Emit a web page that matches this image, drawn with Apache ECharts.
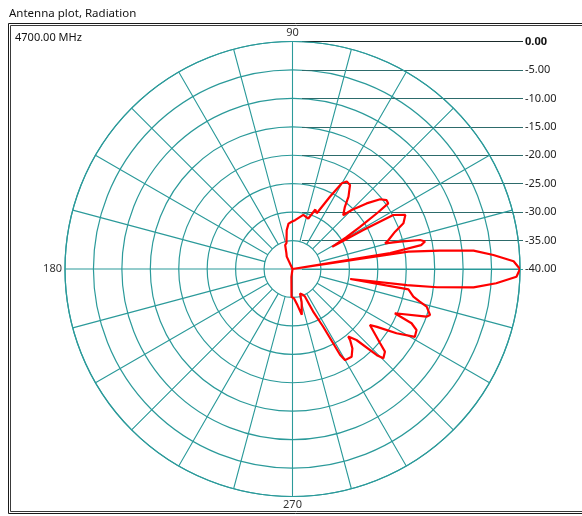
<!DOCTYPE html>
<html><head><meta charset="utf-8">
<script src="https://cdn.jsdelivr.net/npm/echarts/dist/echarts.min.js"></script>
<style>html,body{margin:0;padding:0;background:#fff}#c{width:582px;height:516px}</style>
</head><body><div id="c"></div>
<script>
// ---- data (angle in degrees, gain in dB) ----
const angles = [0, 2, 4, 5.8, 7.1, 8.5, 9, 9.3, 10.5, 11.7, 12.8, 14.3, 15.5, 16.5, 20, 22.4, 25.6, 28.2, 28.8, 29.2, 30.5, 32, 33.5, 34.4, 36.2, 38.5, 41.5, 44.9, 46.7, 49.9, 52.3, 55.6, 58.2, 60.1, 62.6, 66.5, 69, 72.6, 78.7, 87, 91, 95, 98.5, 103, 107, 111, 115, 120, 180, 255, 262, 268, 273, 278, 281.5, 283.7, 285.5, 287, 291, 294.3, 296, 298, 299, 300, 304, 307, 309, 309.5, 312, 314.4, 315.5, 318.2, 319.7, 324.1, 325.6, 328.3, 331, 333.8, 335.5, 336.6, 337.7, 340.4, 341.5, 344.3, 345.6, 347.1, 350, 350.2, 351.2, 352, 352.8, 354.2, 356, 358, 360];
const gains = [0, -1.1, -4.6, -8, -13.9, -19.4, -40, -22.6, -17, -16.2, -17, -20.5, -23.1, -22.5, -20.8, -18.9, -18, -19.9, -25.8, -32, -29, -26, -22, -19.6, -19.5, -20.3, -22.6, -25.3, -27, -25.7, -23.9, -22.1, -21.9, -22.6, -25.7, -29.3, -28.8, -30.7, -30.3, -31.4, -31.7, -32, -33.1, -35.3, -35.6, -37, -37.6, -40, -40, -40, -38.6, -35.1, -34.8, -33.5, -31.8, -32, -34, -35.5, -35.2, -34.7, -31.5, -28.5, -22.7, -21.5, -21.4, -22.5, -23.9, -24.6, -23.2, -18.8, -17.6, -18.2, -19.8, -23.2, -22, -18.5, -15.4, -15.7, -17, -20.4, -20.2, -15, -14.5, -15.5, -16.9, -18.2, -19.3, -29.7, -26.2, -19.7, -14.4, -8, -4.1, -0.6, 0];

// ---- axes / labels ----
const dbMin = -40, dbMax = 0, dbStep = 5;
const angleStep = 15;
const angleLabels = ['90', '180', '270'];
const titleText = 'Antenna plot, Radiation';
const freqText = '4700.00 MHz';

const GRID = '#2b9a9a';
const FONT = 'Noto Sans';

// spokes every 15 deg from the innermost ring to the outer ring
const spokeData = [];
for (let a = angleStep; a < 360; a += angleStep) {
  if (a % 90 === 0) continue;
  spokeData.push([dbMin + dbStep, a], [dbMax, a], ['-', '-']);
}
// the four main axes go through the centre
const crossData = [[dbMax, 0], [dbMin, 0], [dbMax, 180], ['-', '-'], [dbMax, 90], [dbMin, 90], [dbMax, 270]];

const curve = angles.map((a, i) => [gains[i], a]);

const chart = echarts.init(document.getElementById('c'), null, { renderer: 'canvas' });
chart.setOption({
  animation: false,
  backgroundColor: '#ffffff',
  textStyle: { fontFamily: FONT },
  polar: { center: [292.5, 269], radius: 227.5 },
  angleAxis: {
    type: 'value', min: 0, max: 360, interval: angleStep, startAngle: 0, clockwise: false,
    axisLine: { show: true, lineStyle: { color: GRID, width: 1.2 } },
    axisTick: { show: false },
    splitLine: { show: false },
    axisLabel: {
      show: true, margin: 3, color: '#333', fontSize: 11, fontFamily: FONT,
      formatter: v => angleLabels.indexOf(String(v)) >= 0 ? String(v) : ''
    }
  },
  radiusAxis: {
    type: 'value', min: dbMin, max: dbMax, interval: dbStep,
    axisLine: { show: false }, axisTick: { show: false }, axisLabel: { show: false },
    splitLine: { show: true, lineStyle: { color: GRID, width: 1.2 } }
  },
  grid: { left: 302, right: 59, top: 41.5, height: 227.5, containLabel: false },
  xAxis: { type: 'value', min: 0, max: 1, show: false },
  yAxis: {
    type: 'value', min: dbMin, max: dbMax, interval: dbStep, position: 'right',
    axisLine: { show: false }, axisTick: { show: false },
    axisLabel: {
      margin: 2, color: '#222', fontSize: 11, fontFamily: FONT,
      formatter: v => v === 0 ? '{b|0.00}' : v.toFixed(2),
      rich: { b: { fontWeight: 'bold', color: '#111', fontSize: 11, fontFamily: FONT } }
    },
    splitLine: { show: true, lineStyle: { width: 1, color: [GRID, '#2d6b6b', '#2d6b6b', '#2d6b6b', '#2d6b6b', '#2d6b6b', '#2d6b6b', '#2d6b6b', '#1a2a2a'] } }
  },
  series: [
    { type: 'line', coordinateSystem: 'polar', data: spokeData, symbol: 'none', silent: true, connectNulls: false,
      lineStyle: { color: GRID, width: 1.1 }, z: 1 },
    { type: 'line', coordinateSystem: 'polar', data: crossData, symbol: 'none', silent: true, connectNulls: false,
      lineStyle: { color: GRID, width: 1.1 }, z: 1 },
    { type: 'line', coordinateSystem: 'polar', data: curve, symbol: 'none', silent: true,
      lineStyle: { color: '#ff0000', width: 2.2 }, z: 5 }
  ],
  graphic: [
    { type: 'rect', shape: { x: 8.5, y: 23.5, width: 600, height: 490 }, style: { fill: null, stroke: '#1a1a1a', lineWidth: 1 }, silent: true },
    { type: 'rect', shape: { x: 10.5, y: 25.5, width: 600, height: 486 }, style: { fill: null, stroke: '#3a3a3a', lineWidth: 1 }, silent: true },
    { type: 'text', left: 9, top: 8, style: { text: titleText, fill: '#111', font: '11.5px "Noto Sans"' }, silent: true },
    { type: 'text', left: 15, top: 32, style: { text: freqText, fill: '#111', font: '11px "Noto Sans"' }, silent: true }
  ]
});
</script>
</body></html>
